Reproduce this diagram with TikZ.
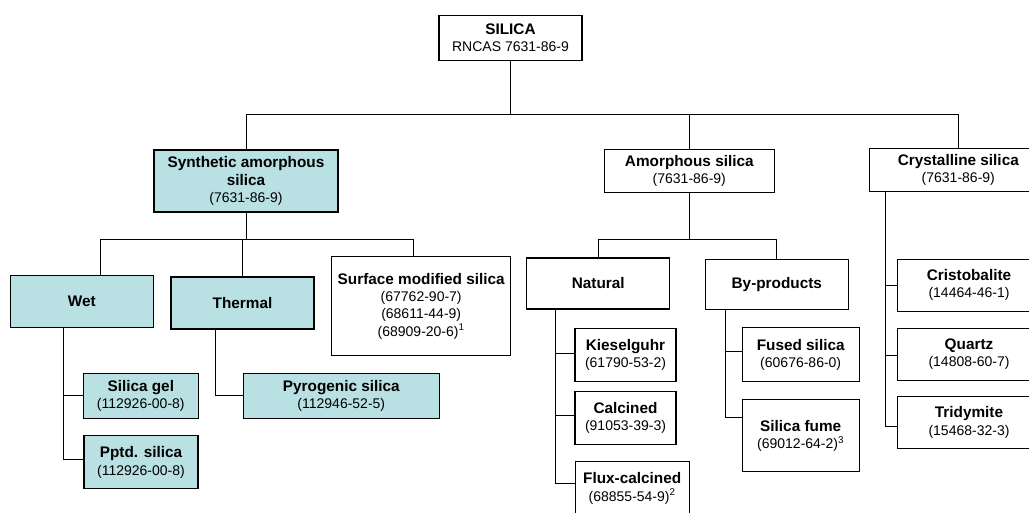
\documentclass[tikz,border=0pt]{standalone}
\usepackage{fontspec}
\setmainfont{Liberation Sans}
\usetikzlibrary{calc}
\definecolor{synfill}{RGB}{185,224,227}
\tikzset{
  box/.style={draw, line width=0.8pt, align=center, inner sep=0pt, font=\fontsize{10.5}{13}\selectfont},
  synbox/.style={box, fill=synfill},
  sz/.style 2 args={minimum width=#1*0.75pt, minimum height=#2*0.75pt},
  link/.style={draw, line width=0.7pt},
}
\newcommand{\ttl}[1]{{\fontsize{11.5}{13}\selectfont\bfseries #1}}

\begin{document}
\begin{tikzpicture}[x=0.75pt, y=-0.75pt]
            \useasboundingbox (0,0) rectangle (1029,512);
            % top
            \node[box, sz={143}{45}] (silica) at (510.5,38) {\ttl{SILICA}\\RNCAS 7631-86-9};
            % families
            \node[synbox, sz={184}{62}] (synth) at (246,181) {\ttl{Synthetic amorphous}\\\ttl{silica}\\(7631-86-9)};
            \node[box, sz={170}{43}] (amorph) at (689.3,170.8) {\ttl{Amorphous silica}\\(7631-86-9)};
            \node[box, sz={178}{43}] (cryst) at (958.3,170) {\ttl{Crystalline silica}\\(7631-86-9)};
            % synthetic
            \node[synbox, sz={143}{52}] (wet) at (81.8,301.5) {\ttl{Wet}};
            \node[synbox, sz={143}{52}] (thermal) at (242.5,303) {\ttl{Thermal}};
            \node[box, sz={179}{99}] (surface) at (421.2,306) {\ttl{Surface modified silica}\\(67762-90-7)\\(68611-44-9)\\(68909-20-6)\textsuperscript{1}};
            \node[synbox, sz={115}{45}] (gel) at (140.8,395.7) {\ttl{Silica gel}\\(112926-00-8)};
            \node[synbox, sz={114}{53}] (pptd) at (141,462.3) {\ttl{Pptd. silica}\\(112926-00-8)};
            \node[synbox, sz={196}{45}] (pyro) at (341.3,395.7) {\ttl{Pyrogenic silica}\\(112946-52-5)};
            % amorphous
            \node[box, sz={143}{51}] (natural) at (598.3,283.5) {\ttl{Natural}};
            \node[box, sz={143}{50}] (byprod) at (776.8,284.3) {\ttl{By-products}};
            \node[box, sz={101}{53}] (kiesel) at (625.5,355) {\ttl{Kieselguhr}\\(61790-53-2)};
            \node[box, sz={101}{53}] (calc) at (625.5,418) {\ttl{Calcined}\\(91053-39-3)};
            \node[box, sz={114}{54}] (flux) at (632.2,488.5) {\ttl{Flux-calcined}\\(68855-54-9)\textsuperscript{2}};
            \node[box, sz={117}{54}] (fused) at (800.7,354.7) {\ttl{Fused silica}\\(60676-86-0)};
            \node[box, sz={117}{72}] (fume) at (800.7,435.8) {\ttl{Silica fume}\\(69012-64-2)\textsuperscript{3}};
            % crystalline
            \node[box, sz={143}{52}] (cristo) at (969,285.2) {\ttl{Cristobalite}\\(14464-46-1)};
            \node[box, sz={143}{52}] (quartz) at (969,354.2) {\ttl{Quartz}\\(14808-60-7)};
            \node[box, sz={143}{52}] (tridy) at (969,422.5) {\ttl{Tridymite}\\(15468-32-3)};
            %links
            \coordinate (busA) at (0,114);
            \coordinate (busB) at (0,239);
            \draw[link] (silica.south) -- (silica.south |- busA);
            \draw[link] (synth.north) -- (synth.north |- busA) -| (cryst.north);
            \draw[link] (amorph.north) -- (amorph.north |- busA);
            \draw[link] (synth.south) -- (synth.south |- busB);
            \draw[link] ([xshift=13.9pt]wet.north) -- ([xshift=13.9pt]wet.north |- busB) -| ([xshift=-5.9pt]surface.north);
            \draw[link] (thermal.north) -- (thermal.north |- busB);
            \draw[link] ([xshift=-13.6pt]wet.south) |- (gel.west);
            \draw[link] ([xshift=-13.6pt]wet.south) |- ([yshift=2.2pt]pptd.west);
            \draw[link] ([xshift=-20.1pt]thermal.south) |- (pyro.west);
            \draw[link] (amorph.south) -- (amorph.south |- busB);
            \draw[link] (natural.north) -- (natural.north |- busB) -| (byprod.north);
            \draw[link] ([xshift=-32.25pt]natural.south) |- ([yshift=1.3pt]kiesel.west);
            \draw[link] ([xshift=-32.25pt]natural.south) |- ([yshift=1.7pt]calc.west);
            \draw[link] ([xshift=-32.25pt]natural.south) |- ([yshift=3.9pt]flux.west);
            \draw[link] ([xshift=-38.85pt]byprod.south) |- ([yshift=2.5pt]fused.west);
            \draw[link] ([xshift=-38.85pt]byprod.south) |- ([yshift=13.6pt]fume.west);
            \draw[link] ([xshift=-54.45pt]cryst.south) |- (cristo.west);
            \draw[link] ([xshift=-54.45pt]cryst.south) |- ([yshift=-1.1pt]quartz.west);
            \draw[link] ([xshift=-54.45pt]cryst.south) |- ([yshift=-2.6pt]tridy.west);
        \end{tikzpicture}
\end{document}
